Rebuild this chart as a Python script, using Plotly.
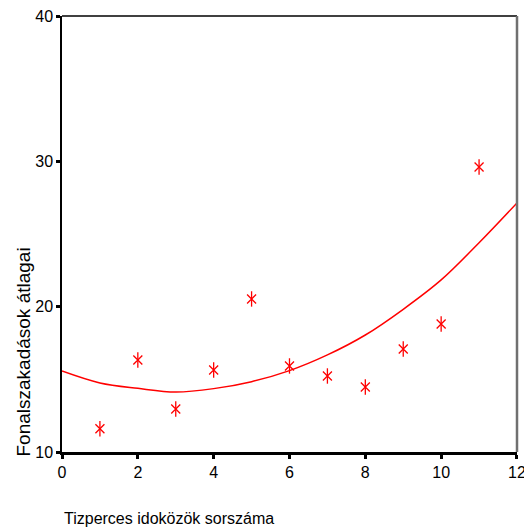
import plotly.graph_objects as go

# Observed data (mean thread breaks per ten-minute interval)
interval = [1, 2, 3, 4, 5, 6, 7, 8, 9, 10, 11]
mean_breaks = [11.6, 16.33, 12.96, 15.64, 20.53, 15.92, 15.23, 14.47, 17.09, 18.81, 29.61]

# Fitted (quadratic) curve
fit_x = [0, 1, 2, 3, 4, 5, 6, 7, 8, 9, 10, 11, 12]
fit_y = [15.57, 14.75, 14.38, 14.13, 14.36, 14.84, 15.6, 16.68, 18.05, 19.82, 21.84, 24.4, 27.14]

x_ticks = [0, 2, 4, 6, 8, 10, 12]
y_ticks = [10, 20, 30, 40]

RED = "#ff0000"
FONT = "Liberation Sans, Arial, sans-serif"

fig = go.Figure()
fig.add_trace(go.Scatter(x=fit_x, y=fit_y, mode="lines",
                         line=dict(color=RED, width=1.5, shape="spline"),
                         hoverinfo="skip"))
fig.add_trace(go.Scatter(x=interval, y=mean_breaks, mode="markers",
                         marker=dict(symbol="x-thin-open", size=9, color=RED,
                                     line=dict(color=RED, width=1.3))))
fig.add_trace(go.Scatter(x=interval, y=mean_breaks, mode="markers",
                         marker=dict(symbol="line-ns-open", size=11, color=RED,
                                     line=dict(color=RED, width=1.3))))

fig.update_layout(
    width=524, height=527,
    margin=dict(l=62, r=7, t=16, b=75, autoexpand=False),
    paper_bgcolor="white", plot_bgcolor="white",
    showlegend=False,
    font=dict(family=FONT, size=14, color="black"),
    xaxis=dict(range=[0, 12.0005], tickvals=x_ticks, showgrid=False, zeroline=False,
               automargin=False, ticklabeloverflow="allow",
               showline=True, linecolor="black", linewidth=2.5,
               ticks="outside", ticklen=4, tickwidth=3, tickcolor="black",
               tickfont=dict(size=16, family=FONT)),
    yaxis=dict(range=[10, 40], tickvals=y_ticks, showgrid=False, zeroline=False,
               automargin=False,
               showline=True, linecolor="black", linewidth=1.5,
               ticks="outside", ticklen=4, tickwidth=3, tickcolor="black",
               tickfont=dict(size=16, family=FONT)),
    shapes=[
        dict(type="line", xref="paper", yref="paper", x0=0, x1=1, y0=1, y1=1,
             line=dict(color="black", width=1.5)),
        dict(type="line", xref="paper", yref="paper", x0=1, x1=1, y0=0, y1=1,
             line=dict(color="#707070", width=2.5)),
    ],
    annotations=[
        dict(text="Tizperces idoközök sorszáma", xref="paper", yref="paper",
             x=0, y=0, xanchor="left", yanchor="middle", yshift=-66,
             showarrow=False, font=dict(size=16, family=FONT)),
        dict(text="Fonalszakadások átlagai", xref="paper", yref="paper",
             x=0, y=0, xanchor="center", yanchor="bottom", xshift=-39, yshift=-7,
             textangle=-90, showarrow=False, font=dict(size=19, family=FONT)),
    ],
)

fig.write_html("out.html", config={"displayModeBar": False},
               post_script="document.body.style.margin='0';document.body.style.overflow='hidden';")
